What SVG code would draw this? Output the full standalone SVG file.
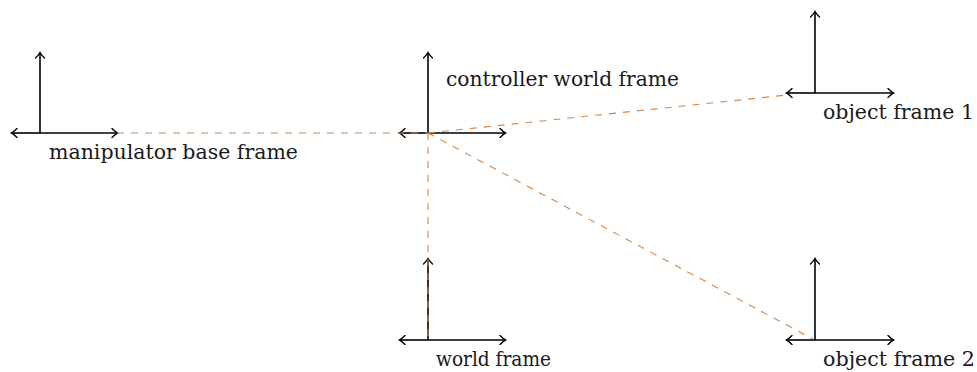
<svg xmlns="http://www.w3.org/2000/svg" width="977" height="372" viewBox="0 0 977 372">
<style>
.ax{stroke:#000;stroke-width:1.6;fill:none;marker-end:url(#ah)}
.dl{stroke:#D4884A;stroke-width:1.1;stroke-dasharray:7,7;fill:none}
.lb{font-family:'DejaVu Serif','Liberation Serif',serif;font-size:21px;fill:#1a1a1a}
</style>
<defs>
<marker id="ah" viewBox="-6 -5 8 10" markerWidth="8" markerHeight="10" refX="0" refY="0" orient="auto" markerUnits="userSpaceOnUse">
<path d="M-5,-4.5 Q-1.5,-1 0.5,0 Q-1.5,1 -5,4.5" stroke="#000" stroke-width="1.4" fill="none" stroke-linecap="round"/>
</marker>
</defs>
<g id="manipulator">
<line class="ax" x1="40" y1="133" x2="40" y2="53"/>
<line class="ax" x1="40" y1="133" x2="12" y2="133"/>
<line class="ax" x1="40" y1="133" x2="117" y2="133"/>
<text class="lb" x="49" y="159" textLength="249" lengthAdjust="spacingAndGlyphs">manipulator base frame</text>
</g>
<g id="controller">
<line class="ax" x1="428" y1="133" x2="428" y2="53"/>
<line class="ax" x1="428" y1="133" x2="400" y2="133"/>
<line class="ax" x1="428" y1="133" x2="505" y2="133"/>
<text class="lb" x="446" y="86" textLength="233" lengthAdjust="spacingAndGlyphs">controller world frame</text>
</g>
<g id="object1">
<line class="ax" x1="815" y1="93" x2="815" y2="12"/>
<line class="ax" x1="815" y1="93" x2="787" y2="93"/>
<line class="ax" x1="815" y1="93" x2="893" y2="93"/>
<text class="lb" x="823" y="119" textLength="151" lengthAdjust="spacingAndGlyphs">object frame 1</text>
</g>
<g id="world">
<line class="ax" x1="428" y1="340" x2="428" y2="259"/>
<line class="ax" x1="428" y1="340" x2="400" y2="340"/>
<line class="ax" x1="428" y1="340" x2="505" y2="340"/>
<text class="lb" x="436" y="366" textLength="115" lengthAdjust="spacingAndGlyphs">world frame</text>
</g>
<g id="object2">
<line class="ax" x1="815" y1="340" x2="815" y2="259"/>
<line class="ax" x1="815" y1="340" x2="787" y2="340"/>
<line class="ax" x1="815" y1="340" x2="893" y2="340"/>
<text class="lb" x="823" y="366" textLength="152" lengthAdjust="spacingAndGlyphs">object frame 2</text>
</g>
<g id="connectors">
<line class="dl" x1="117" y1="133" x2="428" y2="133"/>
<line class="dl" x1="428" y1="133" x2="787" y2="95"/>
<line class="dl" x1="428" y1="133" x2="428" y2="340"/>
<line class="dl" x1="428" y1="133" x2="813" y2="339"/>
</g>
</svg>
